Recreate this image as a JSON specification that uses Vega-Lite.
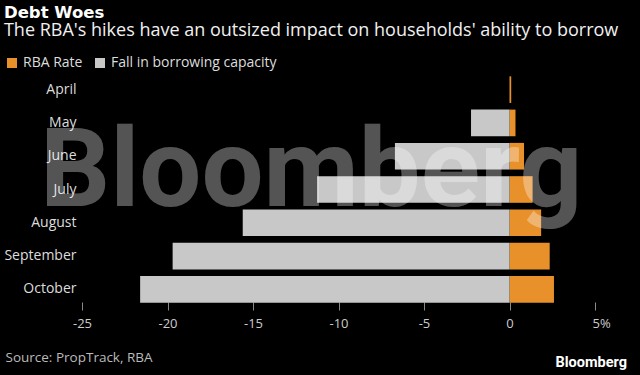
{
  "$schema": "https://vega.github.io/schema/vega-lite/v6.json",
  "autosize": "none",
  "width": 513,
  "height": 233,
  "padding": {"left": 82, "top": 73, "right": 45, "bottom": 69},
  "background": "#000000",
  "config": {
    "font": "Open Sans",
    "view": {"stroke": null},
    "title": {"color": "#ffffff", "subtitleColor": "#f0f0f0"}
  },
  "title": {
    "text": "Debt Woes",
    "subtitle": "The RBA's hikes have an outsized impact on households' ability to borrow",
    "anchor": "start",
    "frame": "bounds",
    "font": "DejaVu Sans",
    "fontSize": 16.5,
    "fontWeight": "bold",
    "subtitleFont": "Open Sans",
    "subtitleFontSize": 18,
    "subtitlePadding": 1,
    "offset": 16
  },
  "datasets": {
    "bars": [
      {"month": "April", "series": "RBA Rate", "value": 0.1},
      {"month": "May", "series": "RBA Rate", "value": 0.35},
      {"month": "June", "series": "RBA Rate", "value": 0.85},
      {"month": "July", "series": "RBA Rate", "value": 1.35},
      {"month": "August", "series": "RBA Rate", "value": 1.85},
      {"month": "September", "series": "RBA Rate", "value": 2.35},
      {"month": "October", "series": "RBA Rate", "value": 2.6},
      {"month": "April", "series": "Fall in borrowing capacity", "value": 0},
      {"month": "May", "series": "Fall in borrowing capacity", "value": -2.25},
      {"month": "June", "series": "Fall in borrowing capacity", "value": -6.7},
      {"month": "July", "series": "Fall in borrowing capacity", "value": -11.25},
      {"month": "August", "series": "Fall in borrowing capacity", "value": -15.6},
      {"month": "September", "series": "Fall in borrowing capacity", "value": -19.7},
      {"month": "October", "series": "Fall in borrowing capacity", "value": -21.6}
    ],
    "watermark": [
      {"month": "July", "value": -11.6, "label": "Bloomberg"}
    ],
    "logo": [
      {"month": "October", "value": 5, "label": "Bloomberg"}
    ]
  },
  "encoding": {
    "y": {
      "field": "month",
      "type": "nominal",
      "sort": null,
      "scale": {
        "domain": ["April", "May", "June", "July", "August", "September", "October"],
        "paddingInner": 0.2,
        "paddingOuter": 0.1
      },
      "axis": {
        "title": null,
        "domain": false,
        "ticks": false,
        "labelFontSize": 14,
        "labelColor": "#dddddd",
        "labelPadding": 6
      }
    }
  },
  "layer": [
    {
      "data": {"name": "bars"},
      "mark": {"type": "bar"},
      "encoding": {
        "x": {
          "field": "value",
          "type": "quantitative",
          "stack": null,
          "scale": {"domain": [-25, 5], "nice": false, "zero": false},
          "axis": {
            "title": "Source: PropTrack, RBA",
            "titleFontSize": 13.5,
            "titleFontWeight": "normal",
            "titleColor": "#bbbbbb",
            "titleAnchor": "start",
            "titleAlign": "left",
            "titleBaseline": "alphabetic",
            "titleX": -77,
            "titleY": 59,
            "offset": -4,
            "values": [-25, -20, -15, -10, -5, 0, 5],
            "labelExpr": "datum.value == 5 ? '5%' : '' + datum.value",
            "labelFlush": false,
            "labelAlign": {"condition": {"test": "datum.value == 5", "value": "left"}, "value": "center"},
            "labelOffset": {"condition": {"test": "datum.value == 5", "value": -3}, "value": 0},
            "domain": false,
            "grid": false,
            "tickColor": "#888888",
            "tickSize": 8,
            "labelFontSize": 13,
            "labelColor": "#cccccc",
            "labelPadding": 7
          }
        },
        "color": {
          "field": "series",
          "type": "nominal",
          "scale": {
            "domain": ["RBA Rate", "Fall in borrowing capacity"],
            "range": ["#e8912a", "#c8c8c8"]
          },
          "legend": {
            "title": null,
            "orient": "none",
            "direction": "horizontal",
            "legendX": -77,
            "legendY": -17,
            "symbolType": "square",
            "symbolSize": 100,
            "symbolStrokeWidth": 0,
            "symbolOpacity": 1,
            "labelFontSize": 14,
            "labelColor": "#dddddd",
            "labelOffset": 4,
            "labelLimit": 400,
            "columnPadding": 10
          }
        }
      }
    },
    {
      "data": {"name": "watermark"},
      "mark": {
        "type": "text",
        "font": "Roboto",
        "fontWeight": "bold",
        "fontSize": 110,
        "color": "#ffffff",
        "opacity": 0.33,
        "align": "center",
        "baseline": "alphabetic",
        "dy": 16
      },
      "encoding": {
        "x": {"field": "value", "type": "quantitative"},
        "text": {"field": "label"}
      }
    },
    {
      "data": {"name": "logo"},
      "mark": {
        "type": "text",
        "font": "Roboto",
        "fontWeight": "bold",
        "fontSize": 14.5,
        "color": "#ffffff",
        "align": "right",
        "baseline": "alphabetic",
        "dx": 32,
        "dy": 78
      },
      "encoding": {
        "x": {"field": "value", "type": "quantitative"},
        "text": {"field": "label"}
      }
    }
  ]
}
